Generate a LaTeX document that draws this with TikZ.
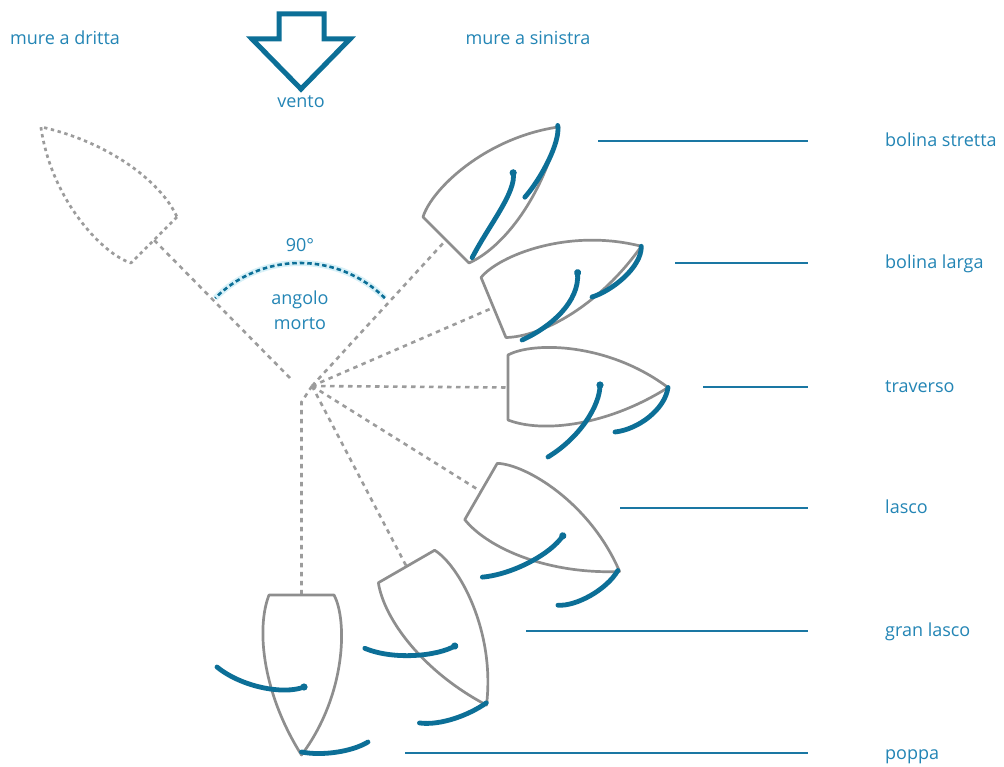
\documentclass[tikz,border=0pt]{standalone}
\usepackage{fontspec}
\setmainfont{Open Sans}
\definecolor{hullgray}{HTML}{8E8E8E}
\definecolor{raygray}{HTML}{9C9C9C}
\definecolor{sailblue}{HTML}{0C6F97}
\definecolor{lineblue}{HTML}{1A77A3}
\definecolor{textblue}{HTML}{2385B5}
\definecolor{halo}{HTML}{D8F1F8}

% hull outline in the boat's own frame: transom at x=0, bow at x=160
\newcommand\hullpath{(0,-32.5) -- (0,32.5) .. controls (25,46) and (100,45) .. (160,0)
  .. controls (100,-38) and (35,-46) .. (0,-32.5) -- cycle}

\begin{document}
\begin{tikzpicture}[x=1pt,y=1pt,
  hull/.style={draw=hullgray, line width=2.7pt, line join=round},
  ghost/.style={draw=raygray, line width=2.7pt, dash pattern=on 3.4pt off 3.6pt, line join=round},
  ray/.style={draw=raygray, line width=2.6pt, dash pattern=on 4.5pt off 4.5pt},
  sail/.style={draw=sailblue, line width=4.8pt, line cap=round},
  mast/.style={fill=sailblue},
  leader/.style={draw=lineblue, line width=1.3pt},
  lbl/.style={text=textblue, font=\fontsize{18}{21}\selectfont, inner sep=0pt},
  windarrow/.style={draw=sailblue, line width=5pt, line join=miter},
  deadarc/.style={draw=sailblue, line width=2.6pt, dash pattern=on 4.5pt off 3pt}
]
\useasboundingbox (0,0) rectangle (1004,766);
\fill[white] (0,0) rectangle (1004,766);

% wind arrow
\draw[windarrow] (279,752) -- (324,752) -- (324,727) -- (350,727) -- (301,677)
  -- (252,727) -- (279,727) -- cycle;
\node[lbl, anchor=base] (vento) at (301,658) {vento};
\node[lbl, anchor=base] (dritta) at (65,721) {mure a dritta};
\node[lbl, anchor=base] (sinistra) at (528,721) {mure a sinistra};

% transom centres and hub of the fan
\coordinate (hub) at (312,380);
\coordinate (hubL) at (290,388);
\coordinate (hubV) at (301.5,364);
\coordinate (T0) at (154,526);
\coordinate (T1) at (446,526);
\coordinate (T2) at (493.5,458.5);
\coordinate (T3) at (508,378.5);
\coordinate (T4) at (481,274.5);
\coordinate (T5) at (406.5,199.5);
\coordinate (T6) at (301.5,171);

% dashed rays from the hub to each boat
\draw[ray] (hubL) -- (T0);
\draw[ray] (hub) -- (T1);
\draw[ray] (hub) -- (T2);
\draw[ray] (hub) -- (T3);
\draw[ray] (hub) -- (T4);
\draw[ray] (hub) -- (T5);
\draw[ray] (hub) -- (hubV) -- (T6);

% dead angle
\coordinate (ctr) at (300,383);
\draw[halo, line width=6pt] (ctr) ++(45:120) arc[start angle=45, end angle=135, radius=120];
\draw[deadarc] (ctr) ++(45:120) arc[start angle=45, end angle=135, radius=120];
\node[lbl, anchor=base] (deg) at (300,514) {90°};
\node[lbl, anchor=base] (ang) at (300,461) {angolo};
\node[lbl, anchor=base] (mor) at (300,436) {morto};

% starboard tack boat (outline only)
\begin{scope}[shift={(T0)}, rotate=135]
  \draw[ghost] \hullpath;
\end{scope}

% bolina stretta
\begin{scope}[shift={(T1)}, rotate=45]
  \draw[hull] \hullpath;
  \draw[sail] (95,0) .. controls (84,-16) and (40,-20) .. (6,-31);
  \fill[mast] (95,0) circle (3.6);
  \draw[sail] (160,2) .. controls (150,-12) and (110,-24) .. (86,-25.5);
\end{scope}

% bolina larga
\begin{scope}[shift={(T2)}, rotate=22.5]
  \draw[hull] \hullpath;
  \draw[sail] (91,0) .. controls (82,-28) and (45,-40) .. (14,-41);
  \fill[mast] (91,0) circle (3.6);
  \draw[sail] (160,0) .. controls (152,-20) and (115,-30) .. (95,-28);
\end{scope}

% traverso
\begin{scope}[shift={(T3)}, rotate=0]
  \draw[hull] \hullpath;
  \draw[sail] (92,2.5) .. controls (92,-18) and (72,-50) .. (40,-69.5);
  \fill[mast] (92,2.5) circle (3.6);
  \draw[sail] (160,0) .. controls (157,-22) and (130,-42) .. (107,-44.5);
\end{scope}

% lasco
\begin{scope}[shift={(T4)}, rotate=-30]
  \draw[hull] \hullpath;
  \draw[sail] (93,2.5) .. controls (92,-18) and (70,-55) .. (44,-73.5);
  \fill[mast] (93,2.5) circle (3.6);
  \draw[sail] (158,0) .. controls (158,-22) and (140,-52) .. (123.5,-60);
\end{scope}

% gran lasco
\begin{scope}[shift={(T5)}, rotate=-60]
  \draw[hull] \hullpath;
  \draw[sail] (93,2) .. controls (93,-18) and (75,-58) .. (50,-77);
  \fill[mast] (93,2) circle (3.6);
  \draw[sail] (158,1) .. controls (160,-20) and (155,-50) .. (142,-67);
\end{scope}

% poppa
\begin{scope}[shift={(T6)}, rotate=-90]
  \draw[hull] \hullpath;
  \draw[sail] (92,2.5) .. controls (100,-18) and (92,-60) .. (72,-84.5);
  \fill[mast] (92,2.5) circle (3.6);
  \draw[sail] (157,0) .. controls (161,20) and (157,50) .. (147,66.5);
\end{scope}

% leader lines and point-of-sail names
\coordinate (a1) at (598,625); \coordinate (b1) at (808,625);
\coordinate (a2) at (675,503); \coordinate (b2) at (808,503);
\coordinate (a3) at (703,379); \coordinate (b3) at (808,379);
\coordinate (a4) at (620,258); \coordinate (b4) at (808,258);
\coordinate (a5) at (526,135); \coordinate (b5) at (808,135);
\coordinate (a6) at (405,13);  \coordinate (b6) at (808,13);
\draw[leader] (a1) -- (b1);
\draw[leader] (a2) -- (b2);
\draw[leader] (a3) -- (b3);
\draw[leader] (a4) -- (b4);
\draw[leader] (a5) -- (b5);
\draw[leader] (a6) -- (b6);
\node[lbl, anchor=base west] (n1) at (885,619) {bolina stretta};
\node[lbl, anchor=base west] (n2) at (885,497) {bolina larga};
\node[lbl, anchor=base west] (n3) at (885,373) {traverso};
\node[lbl, anchor=base west] (n4) at (885,252) {lasco};
\node[lbl, anchor=base west] (n5) at (885,129) {gran lasco};
\node[lbl, anchor=base west] (n6) at (885,7) {poppa};
\end{tikzpicture}
\end{document}
